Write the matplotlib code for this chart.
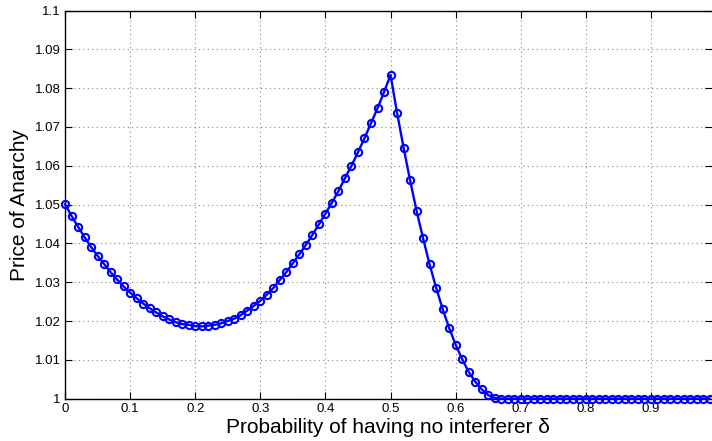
import numpy as np
import matplotlib
matplotlib.use('Agg')
import matplotlib.pyplot as plt
from matplotlib.ticker import FixedLocator, FuncFormatter

plt.rcParams['font.family'] = ['Liberation Sans', 'DejaVu Sans']

# Probability of no interferer, sampled every 0.01
delta = [i / 100 for i in range(100)]

# Price of anarchy
poa = [
    1.0501, 1.0471, 1.0443, 1.0416, 1.0391, 1.0368, 1.0347, 1.0326, 1.0307, 1.0289,
    1.0273, 1.0259, 1.0245, 1.0233, 1.0222, 1.0212, 1.0204, 1.0197, 1.0192, 1.0190,
    1.0187, 1.0186, 1.0188, 1.0190, 1.0194, 1.0200, 1.0206, 1.0215, 1.0227, 1.0239,
    1.0252, 1.0268, 1.0285, 1.0306, 1.0326, 1.0349, 1.0372, 1.0396, 1.0422, 1.0449,
    1.0477, 1.0505, 1.0535, 1.0568, 1.0600, 1.0635, 1.0671, 1.0710, 1.0748, 1.0790,
    1.0834, 1.0737, 1.0647, 1.0563, 1.0484, 1.0413, 1.0346, 1.0286, 1.0231, 1.0182,
    1.0139, 1.0102, 1.0069, 1.0044, 1.0024, 1.0009, 1.0002, 1.0, 1.0, 1.0,
    1.0, 1.0, 1.0, 1.0, 1.0, 1.0, 1.0, 1.0, 1.0, 1.0,
    1.0, 1.0, 1.0, 1.0, 1.0, 1.0, 1.0, 1.0, 1.0, 1.0,
    1.0, 1.0, 1.0, 1.0, 1.0, 1.0, 1.0, 1.0, 1.0, 1.0,
]

xticks = [0, 0.1, 0.2, 0.3, 0.4, 0.5, 0.6, 0.7, 0.8, 0.9]
yticks = [1.0, 1.01, 1.02, 1.03, 1.04, 1.05, 1.06, 1.07, 1.08, 1.09, 1.1]

fig = plt.figure(figsize=(7.12, 4.41), dpi=100)
ax = fig.add_axes([65 / 712, 42.4 / 441, 646.5 / 712, 388 / 441])

ax.plot(delta, poa, '-o', color='#0000ff', linewidth=1.7, markersize=5.2,
        markerfacecolor='none', markeredgewidth=1.5, clip_on=False, zorder=3)

ax.set_xlim(0, 0.993)
ax.set_ylim(1.0, 1.1)
ax.xaxis.set_major_locator(FixedLocator(xticks))
ax.yaxis.set_major_locator(FixedLocator(yticks))
ax.xaxis.set_major_formatter(FuncFormatter(lambda v, p: f'{v:g}'))
ax.yaxis.set_major_formatter(FuncFormatter(lambda v, p: f'{v:g}'))
ax.tick_params(direction='in', length=5, width=0.8, top=True, right=True,
               labelsize=9.5, pad=3)

ax.grid(True, linestyle=(0, (1, 3)), color='#888888', linewidth=0.8)
for s in ax.spines.values():
    s.set_linewidth(1.0)
ax.spines['right'].set_visible(False)

ax.set_xlabel('Probability of having no interferer δ', fontsize=15, labelpad=2)
ax.set_ylabel('Price of Anarchy', fontsize=15, labelpad=4)

fig.savefig('out.png', dpi=100)
